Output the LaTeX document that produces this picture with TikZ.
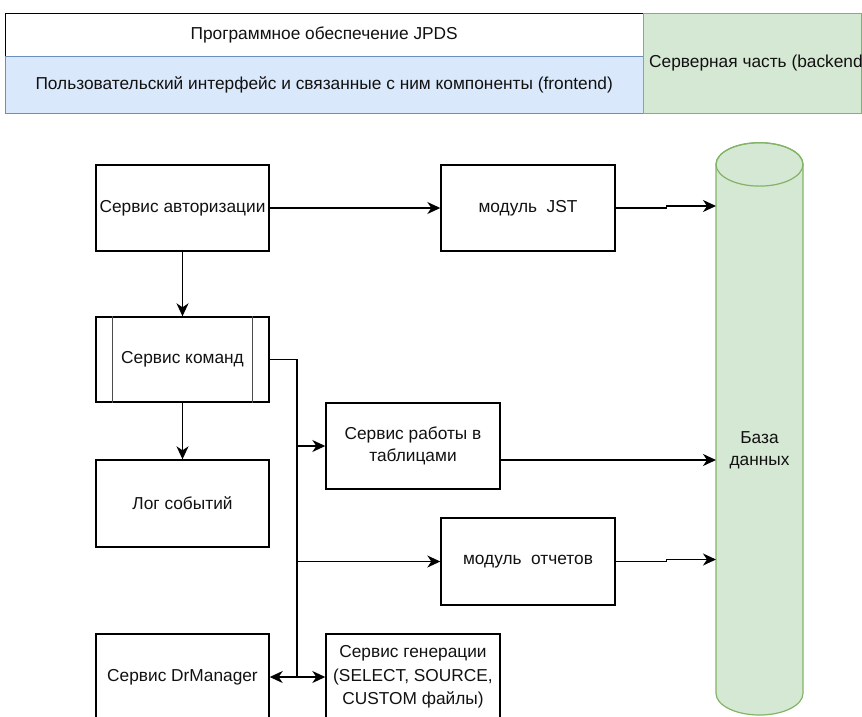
\documentclass[tikz,border=0pt]{standalone}
\usepackage{fontspec}
\setmainfont{Liberation Sans}
\usetikzlibrary{arrows.meta}
\definecolor{bluefill}{HTML}{DAE8FC}
\definecolor{bluestroke}{HTML}{6C8EBF}
\definecolor{greenfill}{HTML}{D5E8D4}
\definecolor{greenstroke}{HTML}{82B366}
\definecolor{txt}{HTML}{111111}
\begin{document}
\begin{tikzpicture}[x=1pt,y=-1pt,
  txtfont/.style={font=\fontsize{17.3}{21.5}\selectfont, text=txt},
  box/.style={draw, line width=1.4pt, minimum width=173pt, minimum height=86pt, inner sep=0pt, align=center, txtfont},
  cell/.style={minimum width=638pt, inner sep=0pt, anchor=north west, txtfont},
  conn/.style={line width=1.4pt, -{Stealth[length=13pt,width=12pt,inset=4pt]}},
  plain/.style={line width=1.4pt}
]
\useasboundingbox (0,0) rectangle (862,716);

% top table
\node[cell, fill=white, minimum height=43pt] (sw) at (5,13) {Программное обеспечение JPDS};
\node[cell, fill=bluefill, minimum height=57pt] (fe) at (5,56) {Пользовательский интерфейс и связанные с ним компоненты (frontend)};
\draw[line width=1pt, bluestroke] (sw.south west) -- (sw.south east);
\draw[line width=1pt, bluestroke] (fe.north west) -- (fe.south west) -- (fe.south east);
\draw[line width=1pt, black] (sw.south west) -- (sw.north west) -- (sw.north east);
\node[fill=greenfill, draw=greenstroke, line width=1pt, minimum width=218pt, minimum height=100pt, anchor=north west, inner sep=0pt] (be) at (643,13) {};
\node[txtfont, anchor=west, inner sep=0pt] (betxt) at (649,63) {Серверная часть (backend)};

% boxes
\node[box] (auth) at (182.5,208) {Сервис авторизации};
\node[box, minimum width=174pt] (jst) at (528,208) {модуль\ \ JST};
\node[box, minimum height=85pt] (cmd) at (182.5,359.5) {Сервис команд};
\draw[line width=0.9pt, black!70] ([xshift=17pt]cmd.north west) -- ([xshift=17pt]cmd.south west);
\draw[line width=0.9pt, black!70] ([xshift=-17pt]cmd.north east) -- ([xshift=-17pt]cmd.south east);
\node[box, minimum width=174pt] (tab) at (413,446) {Сервис работы в\\таблицами};
\node[box, minimum height=87pt] (log) at (182.5,503.5) {Лог событий};
\node[box, minimum width=174pt, minimum height=87pt] (rep) at (528,561.5) {модуль\ \ отчетов};
\node[box] (drm) at (182.5,677) {Сервис DrManager};
\node[box, minimum width=174pt, font=\fontsize{17.3}{23.5}\selectfont] (gen) at (413,677) {Сервис генерации\\(SELECT, SOURCE,\\CUSTOM файлы)};

% database cylinder
\node[minimum width=87pt, minimum height=572pt, inner sep=0pt] (db) at (759.5,429) {};
\path[fill=greenfill, draw=greenstroke, line width=1.2pt]
  (716,164.4) -- (716,693.3)
  arc[start angle=180, end angle=0, x radius=43.5, y radius=21.7]
  -- (803,164.4)
  arc[start angle=0, end angle=-180, x radius=43.5, y radius=21.7] -- cycle;
\draw[greenstroke, line width=1.2pt] (759.5,164.4) ellipse[x radius=43.5, y radius=21.7];
\node[txtfont, align=center, inner sep=0pt] (dblabel) at (759.5,450.5) {База\\данных};

\coordinate (dbin1) at (716,206);
\coordinate (dbin2) at (716,460);
\coordinate (dbin3) at (716,559.5);
\coordinate (bus) at (297,359.5);

% connectors
\draw[conn] (auth.east) -- (jst.west);
\draw[conn] (auth.south) -- (cmd.north);
\draw[conn] (cmd.south) -- (log.north);
\draw[conn] (jst.east) -- ++(51,0) |- (dbin1);
\draw[conn] ([yshift=-14pt]tab.east) -- (dbin2);
\draw[conn] (rep.east) -- ++(51,0) |- (dbin3);
\draw[plain] (cmd.east) -| (bus |- drm.east);
\draw[conn] (bus |- tab.west) -- (tab.west);
\draw[conn] (bus |- rep.west) -- (rep.west);
\draw[conn] (bus |- drm.east) -- (drm.east);
\draw[conn] (bus |- gen.west) -- (gen.west);
\end{tikzpicture}
\end{document}
